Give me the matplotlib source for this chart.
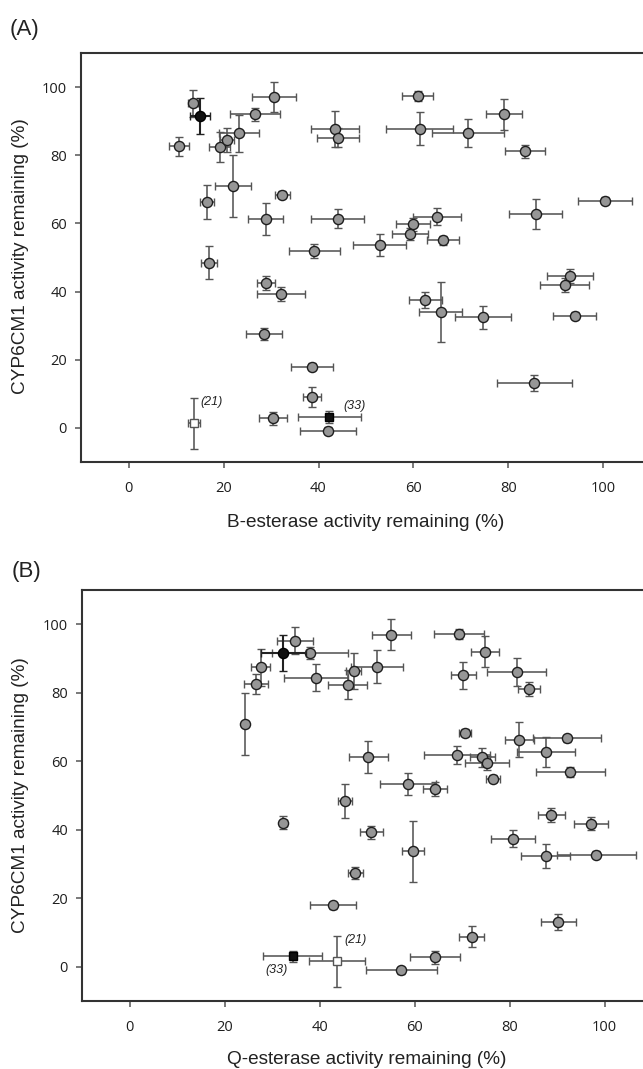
import matplotlib
matplotlib.use("Agg")
import matplotlib.pyplot as plt

# ---------------- Panel A data (B-esterase vs CYP6CM1) ----------------
a_x    = [13.6, 10.6, 19.2, 20.8, 23.2, 26.6, 30.7, 22.0, 16.5, 32.4, 28.9, 44.0, 43.5, 44.1,
          17.0, 28.9, 32.1, 28.6, 39.1, 38.7, 38.7, 30.4, 42.0, 60.9, 61.3, 71.5, 79.0, 83.5,
          100.3, 85.7, 65.0, 59.9, 59.3, 66.2, 52.9, 93.0, 91.8, 62.5, 65.7, 74.7, 93.9, 85.4]
a_y    = [95.2, 82.6, 82.4, 84.6, 86.4, 92.0, 97.1, 71.0, 66.3, 68.4, 61.3, 61.4, 87.6, 85.2,
          48.5, 42.5, 39.3, 27.6, 52.0, 18.0, 9.1, 2.8, -0.8, 97.3, 87.8, 86.4, 92.0, 81.2,
          66.7, 62.8, 62.0, 59.7, 56.8, 55.0, 53.6, 44.5, 41.9, 37.6, 33.9, 32.4, 32.9, 13.1]
a_xerr = [1.0, 2.1, 2.2, 1.5, 4.2, 5.2, 4.6, 3.8, 1.4, 1.6, 3.7, 5.5, 5.1, 4.5,
          1.7, 1.9, 5.1, 3.8, 5.4, 4.4, 1.9, 3.0, 6.0, 3.3, 7.1, 7.5, 3.8, 4.2,
          5.6, 5.5, 5.0, 3.5, 3.8, 3.4, 5.6, 4.8, 5.1, 3.5, 4.6, 5.9, 4.6, 7.9]
a_yerr = [4.0, 2.8, 4.3, 3.5, 5.3, 2.0, 4.4, 9.0, 5.1, 1.0, 4.6, 2.8, 5.3, 2.8,
          4.9, 2.0, 2.1, 1.8, 2.1, 1.0, 3.0, 1.9, 1.0, 1.5, 4.8, 4.1, 4.6, 1.9,
          1.0, 4.3, 2.5, 2.0, 1.8, 1.2, 3.3, 2.1, 2.0, 2.4, 8.8, 3.3, 1.0, 2.3]
# special points A: black circle, black square (33), open square (21)
a_blk_circ = (15.0, 91.6, 2.1, 5.3)
a_blk_sq   = (42.3, 3.2, 6.6, 1.7)
a_open_sq  = (13.8, 1.4, 1.2, 7.5)
a_lab33 = (45.2, 6.3)
a_lab21 = (15.1, 7.5)

# ---------------- Panel B data (Q-esterase vs CYP6CM1) ----------------
b_x    = [24.3, 26.6, 27.6, 52.1, 38.0, 34.8, 55.1, 69.3, 74.8, 39.3, 45.9, 47.2, 70.3, 81.5,
          84.1, 70.6, 82.1, 92.1, 87.6, 69.0, 74.3, 75.2, 92.8, 76.5, 50.3, 58.7, 64.3, 45.4,
          32.4, 50.9, 59.7, 47.5, 42.9, 88.8, 97.2, 80.7, 87.6, 98.3, 90.3, 72.0, 64.3, 57.2]
b_y    = [70.9, 82.5, 87.4, 87.6, 91.7, 95.2, 97.0, 97.2, 92.0, 84.4, 82.3, 86.3, 85.1, 86.1,
          81.1, 68.3, 66.3, 66.7, 62.8, 61.8, 61.2, 59.5, 56.8, 54.9, 61.2, 53.4, 51.8, 48.4,
          42.1, 39.2, 33.7, 27.4, 17.9, 44.4, 41.8, 37.4, 32.3, 32.7, 13.0, 8.8, 2.8, -1.0]
b_xerr = [0.0, 2.5, 2.0, 5.4, 8.0, 3.8, 4.1, 5.3, 2.9, 6.7, 4.1, 1.6, 2.6, 6.2,
          2.4, 1.2, 3.0, 7.2, 6.1, 6.9, 2.6, 4.6, 7.3, 1.5, 4.1, 5.9, 2.6, 1.5,
          0.8, 2.4, 2.4, 1.6, 4.8, 2.9, 3.6, 4.6, 5.2, 8.3, 3.6, 2.6, 5.2, 7.5]
b_yerr = [9.0, 2.9, 5.3, 4.8, 1.8, 4.0, 4.4, 1.5, 4.6, 4.0, 4.2, 5.3, 4.0, 4.1,
          2.0, 1.0, 5.1, 1.0, 4.4, 2.7, 2.8, 2.0, 1.5, 1.0, 4.7, 3.3, 2.0, 5.0,
          2.0, 2.0, 8.9, 1.8, 1.0, 2.0, 2.0, 2.4, 3.4, 1.0, 2.3, 3.0, 1.9, 1.0]
b_blk_circ = (32.4, 91.6, 4.8, 5.3)
b_blk_sq   = (34.4, 3.0, 6.2, 1.7)
b_open_sq  = (43.6, 1.6, 5.9, 7.5)
b_lab33 = (28.6, -1.0)
b_lab21 = (45.2, 7.8)

x_ticks = [0, 20, 40, 60, 80, 100]
y_ticks = [0, 20, 40, 60, 80, 100]
x_labels = ["B-esterase activity remaining (%)", "Q-esterase activity remaining (%)"]
y_label = "CYP6CM1 activity remaining (%)"
panel_letters = ["(A)", "(B)"]

W, H = 643, 1069
fig = plt.figure(figsize=(W / 100, H / 100), dpi=100)

EB_COLOR = "#555555"
SPINE_COLOR = "#333333"
TICK_FONT = "Open Sans"
LABEL_FONT = "Liberation Sans"


def draw_panel(ax, xs, ys, xe, ye, blk_circ, blk_sq, open_sq, lab33, lab21, xlabel):
    ekw = dict(ecolor=EB_COLOR, elinewidth=1.15, capsize=3, capthick=1.1, ls="none")
    ax.errorbar(xs, ys, xerr=xe, yerr=ye, fmt="o", ms=7.3, mfc="#969696",
                mec="#1e1e1e", mew=1.0, zorder=3, **ekw)
    x, y, dx, dy = blk_circ
    ax.errorbar([x], [y], xerr=[dx], yerr=[dy], fmt="o", ms=7.3, mfc="#111111",
                mec="#000000", mew=1.0, zorder=4,
                ecolor="#222222", elinewidth=1.5, capsize=3, capthick=1.1, ls="none")
    x, y, dx, dy = blk_sq
    ax.errorbar([x], [y], xerr=[dx], yerr=[dy], fmt="s", ms=6.2, mfc="#111111",
                mec="#000000", mew=1.0, zorder=4, **ekw)
    x, y, dx, dy = open_sq
    ax.errorbar([x], [y], xerr=[dx], yerr=[dy], fmt="s", ms=6.2, mfc="white",
                mec="#555555", mew=1.0, zorder=4, **ekw)
    ax.text(lab33[0], lab33[1], "(33)", fontsize=9, style="italic",
            family=LABEL_FONT, ha="left", va="center", color="#222222")
    ax.text(lab21[0], lab21[1], "(21)", fontsize=9, style="italic",
            family=LABEL_FONT, ha="left", va="center", color="#222222")

    ax.set_xlim(-10, 110)
    ax.set_ylim(-10, 110)
    ax.set_xticks(x_ticks)
    ax.set_yticks(y_ticks)
    for s in ["left", "top", "bottom", "right"]:
        ax.spines[s].set_color(SPINE_COLOR)
        ax.spines[s].set_linewidth(1.5)
    ax.tick_params(axis="x", length=4.5, width=1.1, color="#555555", pad=9,
                   labelsize=10.5, labelcolor="#1e1e1e")
    ax.tick_params(axis="y", length=4.5, width=1.1, color="#555555", pad=5.5,
                   labelsize=10.5, labelcolor="#1e1e1e")
    for lab in ax.get_xticklabels() + ax.get_yticklabels():
        lab.set_family(TICK_FONT)
    ax.set_xlabel(xlabel, fontsize=13.7, family=LABEL_FONT, color="#222222")
    ax.set_ylabel(y_label, fontsize=13.7, family=LABEL_FONT, color="#222222")
    ax.xaxis.label.set_va("center")
    ax.yaxis.label.set_va("center")


def add_axes_px(left, top, bottom, width):
    return fig.add_axes([left / W, 1 - bottom / H, width / W, (bottom - top) / H])


axA = add_axes_px(81, 53, 462, 570)
draw_panel(axA, a_x, a_y, a_xerr, a_yerr, a_blk_circ, a_blk_sq, a_open_sq,
           a_lab33, a_lab21, x_labels[0])
axA.xaxis.set_label_coords(0.5, -(522 - 462) / 409)
axA.yaxis.set_label_coords((20 - 81) / 570, (462 - 256) / 409)

axB = add_axes_px(82, 590, 1001, 570)
draw_panel(axB, b_x, b_y, b_xerr, b_yerr, b_blk_circ, b_blk_sq, b_open_sq,
           b_lab33, b_lab21, x_labels[1])
axB.xaxis.set_label_coords(0.5, -(1059 - 1001) / 411)
axB.yaxis.set_label_coords((20 - 82) / 570, (1001 - 795) / 411)

fig.text(10 / W, 1 - 29 / H, panel_letters[0], fontsize=16, family=LABEL_FONT,
         ha="left", va="center", color="#222222")
fig.text(12 / W, 1 - 571 / H, panel_letters[1], fontsize=16, family=LABEL_FONT,
         ha="left", va="center", color="#222222")

fig.savefig("out.png", dpi=100)
